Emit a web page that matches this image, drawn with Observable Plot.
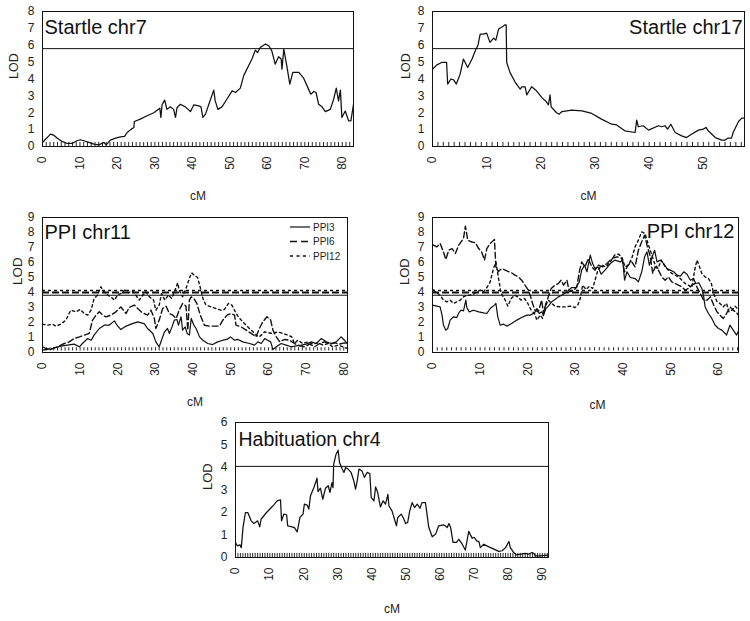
<!DOCTYPE html>
<html><head><meta charset="utf-8">
<script src="https://cdn.jsdelivr.net/npm/d3@7"></script>
<script src="https://cdn.jsdelivr.net/npm/@observablehq/plot@0.6"></script>
<style>
body{margin:0;background:#fff;font-family:"Liberation Sans",Arial,sans-serif;}
#fig{position:relative;width:750px;height:621px;overflow:hidden;background:#fff;}
.panel{position:absolute;}
</style></head><body><div id="fig"></div>
<script>
// ---- Data (cM, LOD) ----
const startle7 = [[0,0.24],[0.8,0.43],[1.7,0.63],[2.1,0.73],[3.0,0.67],[3.9,0.5],[5.2,0.3],[6.6,0.18],[7.9,0.18],[9.2,0.34],[10.1,0.4],[11,0.34],[12.4,0.24],[13.7,0.14],[15,0.1],[16.4,0.24],[17,0.1],[18.1,0.38],[19.5,0.5],[20.8,0.57],[21.9,0.6],[22.6,0.83],[23.7,1.03],[24.4,1.13],[24.5,1.48],[26.1,1.62],[27.9,1.82],[29.7,2.0],[31.3,2.27],[31.6,1.72],[31.9,2.47],[32.6,2.75],[33.2,2.2],[34.1,2.35],[35,2.2],[35.5,1.72],[35.9,2.3],[36.8,2.5],[38.1,2.35],[39.5,2.07],[40.4,2.47],[41.7,2.41],[42.3,2.35],[42.8,1.72],[43.5,1.92],[44.4,2.5],[45.7,3.34],[46.1,2.7],[46.8,2.2],[47.9,2.35],[49.2,2.8],[50.6,3.3],[51.5,3.2],[52.8,3.46],[53.7,4.2],[55.0,4.78],[55.9,5.18],[56.8,5.71],[57.4,5.57],[58.1,5.87],[59.5,6.07],[60.4,5.97],[61.2,5.67],[62.1,4.88],[63.0,5.32],[63.7,5.18],[63.9,4.58],[64.4,5.77],[65.2,4.78],[66,3.7],[66.8,4.39],[68.4,4.39],[69.7,4.05],[71,3.4],[71.6,3.1],[72.4,3.26],[73,3.2],[73.7,2.5],[74.6,2.35],[75.5,2.07],[76.8,2.2],[77.7,2.8],[78.4,3.46],[79,2.7],[79.5,3.34],[79.9,1.72],[80.8,2.1],[81.7,1.52],[82.3,1.52],[83,2.5]];

const startle17 = [[0,4.58],[0.8,4.84],[1.7,4.98],[2.6,4.98],[2.8,3.7],[3.4,4.0],[3.9,3.95],[4.4,3.7],[5.1,4.29],[5.7,5.18],[6.5,4.68],[7.3,5.18],[7.9,5.67],[8.4,6.0],[8.8,6.66],[9.4,6.66],[10.0,6.72],[10.6,6.17],[11.3,6.42],[11.7,6.3],[12.2,6.96],[12.9,7.1],[13.4,7.21],[13.6,7.21],[13.7,4.98],[14.3,4.39],[15.3,3.79],[16.2,3.4],[16.5,3.54],[17.1,3.54],[17.4,3.06],[18.3,3.54],[19.2,3.3],[20.2,2.9],[20.5,2.8],[20.9,2.7],[21.4,2.47],[21.7,3.06],[21.9,2.35],[22.9,2.0],[23.4,1.92],[23.9,2.07],[25.7,2.15],[27.6,2.11],[29.4,1.96],[31.2,1.62],[33.1,1.32],[34,1.28],[35.5,0.93],[37.4,0.83],[37.7,1.56],[38,1.17],[38.9,1.23],[39.9,0.97],[41.7,1.23],[42.3,1.17],[42.9,1.23],[43.4,1.03],[44,1.32],[44.8,0.83],[46,0.63],[46.9,0.53],[47.8,0.73],[49.1,0.97],[50,1.03],[50.5,1.13],[50.9,0.93],[52.2,0.53],[53.4,0.38],[54,0.38],[54.6,0.5],[55.2,0.5],[55.5,0.83],[56.5,1.48],[57.1,1.68],[57.6,1.68]];

const chr11_PPI3 = [[0,0.38],[0.9,0.27],[2.2,0.2],[3.5,0.33],[4.9,0.42],[6.6,0.49],[8.4,0.56],[9.8,0.38],[10.6,0.6],[12,0.93],[12.9,0.82],[13.7,1.16],[15.1,1.6],[16.4,1.82],[17.7,1.82],[19.1,2.11],[19.8,1.82],[20.8,1.53],[22.2,1.76],[23.5,1.89],[25.3,2.04],[26.2,1.98],[27,1.93],[27.9,1.6],[29.3,1.27],[30.1,0.71],[31,0.38],[31.6,0.82],[32.4,1.38],[33.2,1.6],[33.7,1.27],[34.4,1.71],[35,2.16],[35.7,2.2],[36.1,1.82],[36.8,2.38],[37.2,1.49],[37.9,1.71],[38.4,1.27],[39,1.16],[39.5,2.27],[40.2,1.82],[40.8,1.6],[41.7,1.04],[42.6,0.82],[43.9,0.6],[45.2,0.53],[46.5,0.71],[47.9,0.82],[49,0.87],[49.9,1.04],[51,0.82],[51.9,0.87],[53.2,0.71],[55,0.6],[56.3,0.49],[57.2,0.71],[58.1,0.6],[59,0.93],[59.8,0.82],[60.6,0.71],[61.2,0.2],[62.1,0.38],[63.4,0.6],[64.7,0.49],[66,0.38],[67.4,0.44],[68.7,0.49],[70,0.56],[71.4,0.71],[72.7,0.6],[74,0.93],[75.4,0.71],[76.7,0.6],[78,0.71],[79.3,1.04],[80.2,0.82],[81,0.56]];

const chr11_PPI6 = [[0,0.16],[1.3,0.22],[2.7,0.27],[4,0.38],[5.8,0.6],[7.1,0.71],[8.4,0.93],[9.8,1.04],[11.1,1.16],[12.4,1.27],[13.3,2.16],[14.2,2.49],[15.1,2.71],[16,2.49],[16.8,2.38],[18.2,2.49],[19.5,2.71],[20.8,3.04],[22.2,2.6],[23,3.0],[24.4,3.16],[25.3,2.93],[26.2,2.71],[27,2.6],[27.9,2.49],[28.8,2.82],[29.7,2.27],[30.1,1.6],[31,2.16],[31.9,2.93],[32.8,3.09],[33.7,2.6],[34.6,2.49],[35.5,2.27],[36.3,2.82],[37.2,3.27],[38.1,3.09],[38.6,1.49],[39,3.49],[39.5,3.71],[40.2,3.6],[41,3.27],[41.9,2.49],[43,1.82],[44.3,1.76],[45.7,1.76],[47,1.76],[47.9,2.16],[49,2.49],[50.1,2.6],[51,2.49],[51.4,1.82],[52.7,1.71],[54.1,1.49],[55.4,1.27],[56.7,1.04],[57.6,1.6],[58.5,2.04],[59.6,2.38],[60.6,2.16],[61.2,1.49],[62.1,1.04],[63,0.71],[64.3,0.87],[65.6,0.82],[66.9,0.6],[68.3,0.44],[69.6,0.38],[70.9,0.56],[72.3,0.38],[73.6,0.6],[74.9,0.71],[76.2,0.56],[77.6,0.64],[78.9,0.56],[80.2,0.64],[81,0.6]];

const chr11_PPI12 = [[0,1.89],[1.3,1.82],[2.7,1.89],[3.5,1.76],[4.9,1.89],[6.2,2.16],[7.5,2.82],[8.9,2.71],[10,2.87],[11.1,2.6],[12,2.49],[12.9,2.82],[13.7,3.6],[14.6,3.82],[15.5,4.38],[16.4,4.04],[17.3,3.82],[18.2,3.71],[19.1,3.49],[19.9,3.82],[20.8,3.93],[21.9,4.16],[22.8,3.98],[23.9,4.11],[24.8,3.82],[25.7,3.49],[26.6,3.82],[27.5,4.04],[28.4,3.71],[29.5,3.49],[30.1,2.82],[31,3.16],[31.6,3.93],[32.5,3.49],[33.4,3.82],[34.3,3.6],[35.2,4.16],[35.9,4.64],[36.3,4.16],[37.2,3.71],[38.1,4.27],[39,4.93],[39.6,5.31],[40.3,5.16],[41.2,5.0],[41.9,4.33],[42.6,3.6],[43.4,3.16],[44.8,3.04],[46.1,2.93],[47.4,2.82],[48.3,2.87],[49.4,3.27],[50.3,3.16],[51.2,2.71],[52,2.38],[53.2,2.04],[54.5,1.71],[55.9,1.38],[56.7,1.16],[57.6,1.04],[59,1.38],[59.8,1.31],[61.2,1.27],[62.5,1.38],[63.8,1.27],[65.2,1.16],[66.2,1.04],[66.9,0.6],[67.8,0.82],[69.1,0.6],[70.5,0.71],[71.8,0.56],[73.1,0.64],[74.5,0.49],[75.8,0.6],[77.1,0.38],[78.5,0.49],[79.8,0.38],[81,0.27]];

const chr12_PPI3 = [[0,3.16],[0.9,3.09],[1.6,3.04],[2,2.49],[2.3,1.82],[2.8,1.49],[3.2,1.6],[3.7,2.16],[4.4,2.38],[5.1,2.33],[5.5,2.64],[6,2.82],[6.5,2.78],[7,3.49],[7.2,3.0],[7.7,2.71],[8.6,2.82],[9.7,2.71],[10.7,2.64],[11.4,2.6],[12.1,2.93],[13,3.16],[13.3,3.27],[13.7,2.38],[14.2,1.82],[14.9,1.89],[15.6,1.76],[16.6,1.93],[17.7,2.16],[18.7,2.33],[19.8,2.49],[20.5,2.49],[21.4,2.64],[21.9,2.93],[22.4,2.6],[22.9,2.71],[23.3,2.49],[23.8,2.93],[24.3,3.09],[25,3.38],[25.7,3.53],[26.4,3.71],[27.1,3.82],[28.2,4.04],[29.2,4.33],[30.1,4.33],[30.8,4.71],[31.3,5.49],[31.9,5.82],[32.4,5.38],[33.1,6.49],[33.6,5.93],[34.1,5.6],[34.7,5.71],[35.4,5.22],[36.2,5.49],[37.3,5.93],[38.3,6.16],[39.4,6.04],[39.9,6.16],[40.3,4.82],[40.8,5.38],[41.5,5.0],[42.5,4.93],[43.2,4.71],[43.9,5.38],[44.5,6.38],[45,6.71],[45.5,5.82],[46.2,6.49],[46.6,6.82],[47.1,6.04],[47.8,6.16],[48.5,5.93],[49.2,5.6],[49.9,5.49],[50.6,5.38],[51.3,5.16],[52,5.09],[52.7,5.38],[53.4,5.22],[54.1,4.82],[54.8,4.93],[55.2,4.6],[55.9,4.64],[56.5,4.27],[56.9,3.71],[57.2,3.04],[57.9,2.6],[58.6,2.27],[59.3,1.82],[60,1.6],[60.7,1.49],[61.4,1.27],[61.7,1.16],[62.4,1.82],[63.1,1.49],[63.8,1.16],[64.2,1.44]];

const chr12_PPI6 = [[0.2,7.16],[0.9,7.04],[1.6,7.27],[2.3,6.71],[2.8,6.2],[3.4,6.82],[4.1,6.93],[4.8,6.6],[5.5,7.16],[6,7.38],[6.5,7.6],[6.9,8.42],[7.4,7.49],[8.1,7.38],[9,7.31],[9.7,6.93],[10.3,6.71],[10.9,6.16],[11.4,6.93],[12.1,7.27],[13,7.53],[13.3,5.71],[13.8,5.38],[14.5,5.6],[15.6,5.44],[16.6,5.31],[17.3,5.16],[18,5.04],[18.7,4.82],[19.4,4.49],[20.1,4.16],[20.5,3.82],[21,3.27],[21.5,2.82],[22.2,2.71],[22.9,3.49],[23.3,2.6],[23.8,3.27],[24.3,3.71],[24.9,4.27],[25.7,4.49],[26.4,4.6],[27,4.82],[27.5,4.49],[28.2,4.82],[28.7,4.04],[29.6,4.11],[30.3,4.38],[30.8,5.38],[31.3,6.04],[32,5.71],[32.7,6.27],[33.4,5.71],[34.1,5.49],[34.8,5.82],[35.7,5.71],[36.6,5.93],[37.6,6.27],[38.7,6.38],[39.7,6.27],[40.3,5.38],[41,5.82],[41.8,6.04],[42.5,5.71],[43.2,6.82],[43.9,7.38],[44.5,7.82],[45,7.16],[45.7,6.38],[46.2,5.27],[46.7,5.71],[47.4,5.49],[48.1,5.04],[48.8,4.82],[49.5,5.04],[50.2,4.71],[50.9,4.6],[51.6,4.49],[52.3,4.38],[53,4.16],[53.7,4.27],[54.4,4.49],[55.1,4.6],[55.8,4.16],[56.9,3.49],[57.6,3.49],[58.3,3.71],[59,3.16],[59.7,2.71],[60.3,2.49],[61,2.27],[61.7,2.6],[62.4,3.04],[63.1,2.82],[63.8,2.64],[64.2,2.49]];

const chr12_PPI12 = [[0.2,4.16],[0.9,3.98],[1.6,3.82],[2.3,3.49],[3,3.38],[3.7,3.49],[4.4,3.27],[5.1,3.38],[5.8,3.49],[6.5,3.71],[7.2,3.82],[7.9,3.82],[8.6,3.89],[9.3,4.04],[10,4.16],[10.7,4.04],[11.4,4.33],[12.1,4.71],[12.8,5.6],[13.3,6.04],[13.8,5.04],[14.4,3.93],[15.1,3.6],[15.8,3.09],[16.5,3.6],[17.2,3.82],[17.9,3.71],[18.6,3.49],[19.3,3.6],[20,3.27],[20.7,2.82],[21.4,2.6],[21.9,2.16],[22.6,2.49],[23.1,2.27],[23.6,3.04],[24.3,3.49],[25,3.27],[25.7,3.09],[26.8,3.04],[27.8,3.04],[28.9,3.09],[29.9,3.0],[30.5,3.16],[31,3.6],[31.5,4.49],[32.2,4.2],[32.9,4.42],[33.6,4.27],[34.1,4.82],[34.7,5.49],[35.5,5.82],[36.4,5.71],[37.3,6.04],[38.2,6.49],[39,6.56],[39.7,6.38],[40.4,5.71],[41.1,5.82],[41.8,6.27],[42.5,7.04],[43.2,7.49],[43.9,8.04],[44.6,7.93],[45.2,7.27],[45.9,6.6],[46.6,5.93],[47.3,5.6],[48,6.16],[48.8,5.71],[49.5,5.49],[50.2,5.27],[50.9,5.16],[51.6,5.04],[52.3,4.82],[53,4.6],[53.7,4.49],[54.4,4.33],[55,5.49],[55.5,6.16],[55.9,5.82],[56.5,5.27],[57.2,5.04],[57.9,4.93],[58.5,4.6],[59,3.93],[59.7,3.38],[60.3,3.27],[61,3.04],[61.7,3.27],[62.2,2.71],[62.8,2.82],[63.5,3.09],[64.2,2.82]];

const habituation4 = [[0,0.67],[0.5,0.52],[1.3,0.56],[1.7,0.44],[2.2,1.33],[2.9,2.0],[3.6,2.0],[4.6,1.63],[5.4,1.51],[6.5,1.63],[7.1,1.36],[7.5,1.7],[9.1,2.0],[10.3,2.19],[11.2,2.33],[12.2,2.52],[13.2,2.56],[13.5,1.63],[14.2,1.93],[15,1.9],[15.3,1.41],[16.6,1.36],[17.3,1.33],[18.1,1.14],[18.9,1.78],[19.8,1.93],[20.2,2.37],[21,2.33],[21.5,2.15],[22,2.74],[23,3.11],[23.5,3.33],[23.9,3.53],[24.2,2.93],[24.9,3.08],[25.6,2.59],[26.4,3.08],[27.2,3.19],[27.7,2.89],[28.3,3.33],[28.6,3.11],[28.8,4.15],[29.5,4.59],[30.1,4.77],[30.5,4.22],[31.3,3.93],[31.8,3.78],[32.3,4.0],[33.0,3.93],[33.9,3.78],[34.7,3.41],[35.2,3.04],[35.7,3.41],[36.2,3.93],[37.1,3.85],[37.8,3.56],[38.6,3.78],[39.4,3.73],[39.8,2.67],[40.6,2.52],[41.1,3.14],[41.7,2.89],[42.5,2.25],[43.3,2.52],[44,2.37],[44.7,2.81],[45,2.3],[45.9,2.07],[47.2,1.41],[47.6,1.78],[48.6,1.93],[49.4,1.7],[49.9,1.51],[50.5,1.56],[51.1,2.07],[51.8,2.44],[52.5,2.22],[53.3,2.37],[54.1,2.19],[54.7,2.44],[55.7,2.44],[56.7,1.33],[57.7,0.92],[58.7,1.04],[59.6,1.41],[61.1,1.45],[62.1,1.33],[62.6,1.51],[63.1,1.33],[63.8,0.67],[64.8,0.67],[65.5,0.81],[66.5,0.59],[67.4,0.33],[67.9,0.74],[68.4,1.16],[69.4,0.86],[70.1,0.89],[70.7,0.74],[71.4,0.71],[71.8,0.44],[72.8,0.59],[74.3,0.47],[75.8,0.37],[77.2,0.27],[78.2,0.3],[79.2,0.44],[80.2,0.71],[80.6,0.44],[81.6,0.22],[82.4,0.12],[83.6,0.15],[85.0,0.18],[86,0.15],[87,0.22],[87.5,0.18],[88,0.07],[89.4,0.07],[90.9,0.1],[91.7,0.1]];

// significance thresholds (LOD)
const thrStartle7 = [5.8], thrStartle17 = [5.8], thrHab4 = [4.05];
const thrPPI3 = 3.82, thrPPI6 = 4.0, thrPPI12 = 4.13;

// tick labels
const ticks7 = [0,10,20,30,40,50,60,70,80];
const ticks17 = [0,10,20,30,40,50];
const ticks11 = [0,10,20,30,40,50,60,70,80];
const ticks12 = [0,10,20,30,40,50,60];
const ticks4 = [0,10,20,30,40,50,60,70,80,90];

const INK = "#111";
const styles = {
  PPI3: {strokeDasharray: null, strokeWidth: 1.2},
  PPI6: {strokeDasharray: "6,3", strokeWidth: 1.4},
  PPI12: {strokeDasharray: "2.5,3", strokeWidth: 1.4}
};

function makePanel(p) {
  const marks = [
    Plot.ruleX(d3.range(0, p.xMax, p.minorStep), {x: d => d, y1: p.minorY[0], y2: p.minorY[1], stroke: INK, strokeWidth: 0.9}),
    ...p.thresholds.map(t => Plot.ruleY([t.v], {stroke: INK, strokeWidth: t.w ?? 1, strokeDasharray: t.dash ?? null})),
    ...p.series.map(s => Plot.line(s.data, {x: d => d[0], y: d => d[1], stroke: INK, strokeWidth: s.style?.strokeWidth ?? 1.25, strokeDasharray: s.style?.strokeDasharray ?? null})),
    Plot.frame({stroke: INK, strokeWidth: 1}),
    Plot.axisY({ticks: d3.range(0, p.yMax + 1), tickFormat: d3.format("d"), tickSize: 0, tickPadding: 8, label: null, fontSize: 12}),
    Plot.axisX({ticks: p.xTicks, tickFormat: d3.format("d"), tickSize: 0, tickPadding: 10, tickRotate: -90, label: null, fontSize: 12}),
    Plot.text(["LOD"], {frameAnchor: "left", dx: -p.lodDx, rotate: -90, fontSize: p.lodSize ?? 12.5, fill: "#222"}),
    Plot.text(["cM"], {frameAnchor: "bottom", dy: p.cmDy, dx: p.cmDx ?? 0, fontSize: 12, fill: "#222"}),
    Plot.text([p.title], {frameAnchor: p.titleAnchor, textAnchor: p.titleAnchor === "top-left" ? "start" : "end", lineAnchor: "bottom", dx: p.titleDx, dy: p.titleDy, fontSize: p.titleSize ?? 20, fill: INK})
  ];
  const chart = Plot.plot({
    width: p.width, height: p.height,
    marginTop: p.m[0], marginRight: p.m[1], marginBottom: p.m[2], marginLeft: p.m[3],
    x: {domain: [0, p.xMax]},
    y: {domain: [0, p.yMax]},
    style: {fontFamily: "Liberation Sans, Arial, sans-serif", fontSize: "12px", background: "transparent", overflow: "visible", color: "#222"},
    marks
  });
  const div = document.createElement("div");
  div.className = "panel";
  div.style.left = p.left + "px"; div.style.top = p.top + "px";
  div.style.width = p.width + "px"; div.style.height = p.height + "px";
  div.appendChild(chart);
  document.getElementById("fig").appendChild(div);
}

makePanel({left: 0, top: 0, width: 375, height: 215, m: [11, 22, 69, 42], xMax: 83, yMax: 8, xTicks: ticks7, minorStep: 1, minorY: [0, 0.24],
  thresholds: thrStartle7.map(v => ({v})), series: [{data: startle7}], title: "Startle chr7", titleAnchor: "top-left", titleDx: 2, titleDy: 22, lodDx: 29, cmDy: 53});

makePanel({left: 375, top: 0, width: 375, height: 215, m: [11, 6, 69, 57], xMax: 57.6, yMax: 8, xTicks: ticks17, minorStep: 1, minorY: [0, 0.24],
  thresholds: thrStartle17.map(v => ({v})), series: [{data: startle17}], title: "Startle chr17", titleAnchor: "top-right", titleDx: -2, titleDy: 22, lodDx: 27, cmDy: 53});

makePanel({left: 0, top: 205, width: 375, height: 210, m: [12, 28, 63, 42], xMax: 81, yMax: 9, xTicks: ticks11, minorStep: 1, minorY: [0.1, 0.32],
  thresholds: [{v: thrPPI3, w: 1.1}, {v: thrPPI6, w: 2, dash: "7,3"}, {v: thrPPI12, w: 1.6, dash: "3,3"}],
  series: [{data: chr11_PPI3, style: styles.PPI3}, {data: chr11_PPI6, style: styles.PPI6}, {data: chr11_PPI12, style: styles.PPI12}],
  title: "PPI chr11", titleAnchor: "top-left", titleDx: 2, titleDy: 21, lodDx: 25, lodSize: 13.5, cmDy: 53});

makePanel({left: 375, top: 205, width: 375, height: 210, m: [12, 12, 63, 57], xMax: 64.2, yMax: 9, xTicks: ticks12, minorStep: 1, minorY: [0.1, 0.32],
  thresholds: [{v: thrPPI3, w: 1.1}, {v: thrPPI6, w: 2, dash: "7,3"}, {v: thrPPI12, w: 1.6, dash: "3,3"}],
  series: [{data: chr12_PPI3, style: styles.PPI3}, {data: chr12_PPI6, style: styles.PPI6}, {data: chr12_PPI12, style: styles.PPI12}],
  title: "PPI chr12", titleAnchor: "top-right", titleDx: -4, titleDy: 20, lodDx: 28, lodSize: 13, cmDy: 56, cmDx: 12});

makePanel({left: 180, top: 410, width: 400, height: 211, m: [12, 32, 64, 55], xMax: 91.8, yMax: 6, xTicks: ticks4, minorStep: 0.72, minorY: [0, 0.18],
  thresholds: thrHab4.map(v => ({v})), series: [{data: habituation4}], title: "Habituation chr4", titleAnchor: "top-left", titleDx: 3, titleDy: 23, titleSize: 19.5, lodDx: 28, lodSize: 13, cmDy: 55});

// legend for PPI chr11
const legendItems = [{label: "PPI3", s: styles.PPI3}, {label: "PPI6", s: {strokeDasharray: "7,4", strokeWidth: 1.6}}, {label: "PPI12", s: {strokeDasharray: "3,3.5", strokeWidth: 1.4}}];
const lg = document.createElement("div");
lg.className = "panel";
lg.style.left = "288px"; lg.style.top = "219px";
const ns = "http://www.w3.org/2000/svg";
const svg = document.createElementNS(ns, "svg");
svg.setAttribute("width", 60); svg.setAttribute("height", 46);
legendItems.forEach((it, i) => {
  const y = 8 + i * 14.5;
  const ln = document.createElementNS(ns, "line");
  ln.setAttribute("x1", 2); ln.setAttribute("x2", 22); ln.setAttribute("y1", y); ln.setAttribute("y2", y);
  ln.setAttribute("stroke", INK); ln.setAttribute("stroke-width", it.s.strokeWidth);
  if (it.s.strokeDasharray) ln.setAttribute("stroke-dasharray", it.s.strokeDasharray);
  svg.appendChild(ln);
  const tx = document.createElementNS(ns, "text");
  tx.setAttribute("x", 25); tx.setAttribute("y", y + 3.6);
  tx.setAttribute("font-size", 10); tx.setAttribute("fill", "#222");
  tx.setAttribute("font-family", "Liberation Sans, Arial, sans-serif");
  tx.textContent = it.label;
  svg.appendChild(tx);
});
lg.appendChild(svg);
document.getElementById("fig").appendChild(lg);
</script></body></html>
